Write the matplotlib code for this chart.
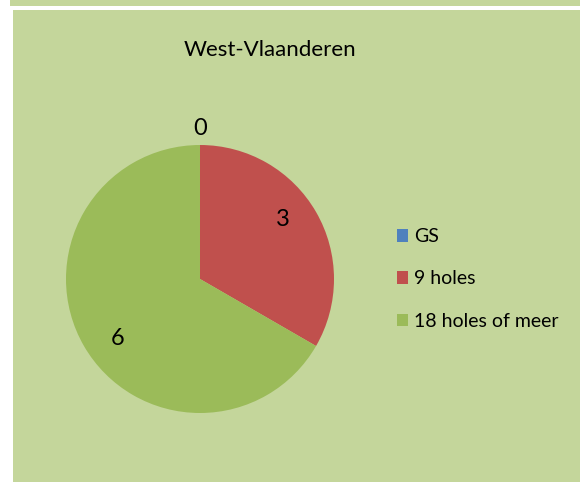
import numpy as np
import matplotlib.pyplot as plt
from matplotlib.patches import Rectangle, Patch

plt.rcParams['font.family'] = ['Lato', 'DejaVu Sans']

# data
title = "West-Vlaanderen"
categories = ["GS", "9 holes", "18 holes of meer"]
values = [0, 3, 6]
colors = ["#4F81BD", "#C0504D", "#9BBB59"]
bg = "#C4D69B"

W, H = 580, 482
fig = plt.figure(figsize=(W / 100, H / 100), dpi=100)
fig.patch.set_facecolor("white")

# background panels (strip above + chart area)
fig.patches.append(Rectangle((10 / W, 1 - 6 / H), 1, 6 / H, transform=fig.transFigure,
                             facecolor=bg, edgecolor="none", zorder=-5))
fig.patches.append(Rectangle((13 / W, 0), 1, 1 - 10 / H, transform=fig.transFigure,
                             facecolor=bg, edgecolor="none", zorder=-5))

# pie axes: center (200, 279), radius 134 px
cx, cy, r = 200, 279, 134
ax = fig.add_axes([(cx - r) / W, (H - cy - r) / H, 2 * r / W, 2 * r / H])
ax.set_facecolor("none")
wedges, _ = ax.pie(values, colors=colors, startangle=90, counterclock=False,
                   radius=1, wedgeprops=dict(linewidth=0))
ax.set_xlim(-1, 1)
ax.set_ylim(-1, 1)
ax.set_aspect("equal")
ax.axis("off")

# data labels (excel puts them a bit off the slice middle)
for w, v in zip(wedges, values):
    if v == 0:
        mid, d = np.deg2rad(w.theta1), 1.12
    else:
        mid, d = np.deg2rad((w.theta1 + w.theta2) / 2 + 6), 0.76
    ax.text(d * np.cos(mid), d * np.sin(mid), str(v), ha="center", va="center",
            fontsize=17)

fig.text(270 / W, 1 - 50 / H, title, ha="center", va="center", fontsize=16)

handles = [Patch(facecolor=c, edgecolor="none") for c in colors]
fig.legend(handles, categories, loc="center left", bbox_to_anchor=(387 / W, 1 - 279 / H),
           frameon=False, fontsize=14, handlelength=0.6, handleheight=0.6,
           handletextpad=0.3, labelspacing=1.3, borderpad=0)

fig.savefig("out.png", dpi=100)
